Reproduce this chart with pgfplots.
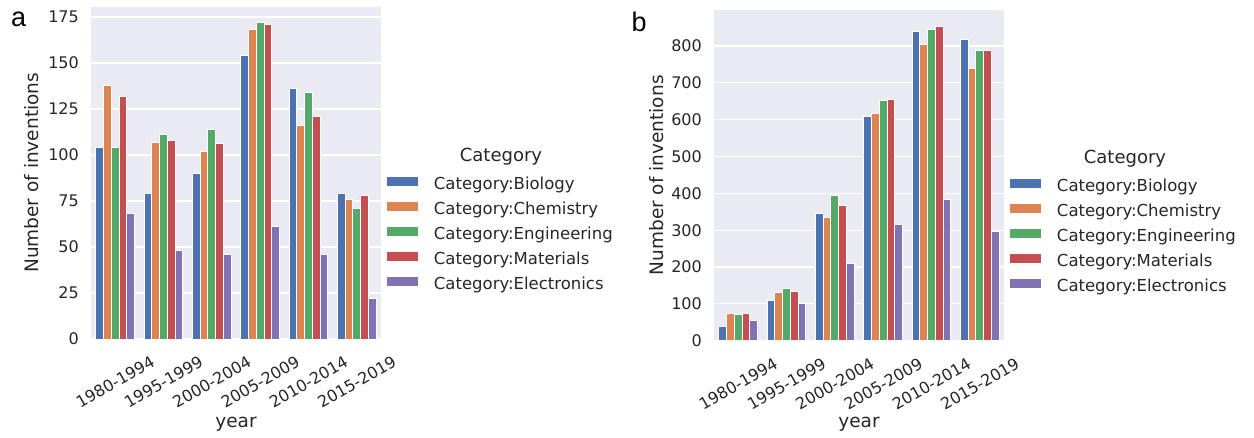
\documentclass[border=0pt]{standalone}
\usepackage{pgfplots}
\usepackage{pgfplotstable}
\pgfplotsset{compat=1.18}
\usepackage{fontspec}
\setmainfont{DejaVu Sans}
\newfontfamily\panelfont{Liberation Sans}
\definecolor{sbblue}{HTML}{4C72B0}
\definecolor{sborange}{HTML}{DD8452}
\definecolor{sbgreen}{HTML}{55A868}
\definecolor{sbred}{HTML}{C44E52}
\definecolor{sbpurple}{HTML}{8172B3}
\definecolor{sbbg}{HTML}{EAEAF2}
\definecolor{sbtext}{HTML}{262626}

\pgfplotstableread{
x bio chem eng mat elec
0 104 138 104 132 68
1 79 107 111 108 48
2 90 102 114 106 46
3 154 168 172 171 61
4 136 116 134 121 46
5 79 76 71 78 22
}\dataA

\pgfplotstableread{
x bio chem eng mat elec
0 38 75 72 75 54
1 108 131 143 133 100
2 344 335 395 366 209
3 609 617 653 656 316
4 839 804 845 854 382
5 817 738 789 789 296
}\dataB

\newcommand\labfont{\fontsize{18.5}{22}\selectfont}
\pgfplotsset{
  sbstyle/.style={
    scale only axis,
    width=290pt,
    ybar, bar width=0.16,
    xmin=-0.5, xmax=5.5, ymin=0,
    xtick={0,1,2,3,4,5},
    xticklabels={1980-1994,1995-1999,2000-2004,2005-2009,2010-2014,2015-2019},
    major tick length=0pt,
    axis line style={draw=none},
    axis background/.style={fill=sbbg},
    ymajorgrids, xmajorgrids=false,
    grid style={white, line width=1.2pt},
    /pgf/number format/assume math mode=true,
    tick label style={font=\fontsize{16}{19}\selectfont, text=sbtext},
    yticklabel style={anchor=east, inner sep=0pt, xshift=-12pt},
    xticklabel style={yshift=-43pt, rotate=30, anchor=center, inner sep=0pt},
    xlabel={year}, ylabel={Number of inventions},
    legend cell align=left,
    legend style={draw=none, fill=none, font=\fontsize{16.5}{19}\selectfont, text=sbtext,
      inner sep=0pt, outer sep=0pt,
      row sep=7pt, column sep=15pt, anchor=north west,
      nodes={inner sep=0pt, text height=12pt, text depth=4pt}},
    legend image code/.code={\fill[##1] (0pt,-0.5pt) rectangle (32pt,9.5pt);},
    every axis plot/.append style={draw=white, line width=1pt},
  }
}

\begin{document}
\begin{tikzpicture}
\path[use as bounding box] (0,0) rectangle (1254pt,-438pt);

\begin{axis}[sbstyle,
  at={(91pt,-339pt)}, anchor=south west,
  height=332.3pt, ymax=180.6,
  ytick={0,25,50,75,100,125,150,175},
  every axis x label/.style={at={(axis description cs:0.5,-0.2558)}, anchor=center, font=\labfont, text=sbtext},
  every axis y label/.style={at={(axis description cs:-0.2034,0.5)}, rotate=90, anchor=center, font=\labfont, text=sbtext},
  legend style={at={(axis description cs:1.0172,0.492)}},
]
\addplot[fill=sbblue, bar shift=-0.32] table[x=x,y=bio] {\dataA};
\addplot[fill=sborange, bar shift=-0.16] table[x=x,y=chem] {\dataA};
\addplot[fill=sbgreen, bar shift=0] table[x=x,y=eng] {\dataA};
\addplot[fill=sbred, bar shift=0.16] table[x=x,y=mat] {\dataA};
\addplot[fill=sbpurple, bar shift=0.32] table[x=x,y=elec] {\dataA};
\legend{Category:Biology,Category:Chemistry,Category:Engineering,Category:Materials,Category:Electronics}
\end{axis}

\begin{axis}[sbstyle,
  at={(714pt,-340.7pt)}, anchor=south west,
  height=330.8pt, ymax=898,
  ytick={0,100,200,300,400,500,600,700,800},
  every axis x label/.style={at={(axis description cs:0.5,-0.2518)}, anchor=center, font=\labfont, text=sbtext},
  every axis y label/.style={at={(axis description cs:-0.1966,0.5)}, rotate=90, anchor=center, font=\labfont, text=sbtext},
  legend style={at={(axis description cs:1.0172,0.4933)}},
]
\addplot[fill=sbblue, bar shift=-0.32] table[x=x,y=bio] {\dataB};
\addplot[fill=sborange, bar shift=-0.16] table[x=x,y=chem] {\dataB};
\addplot[fill=sbgreen, bar shift=0] table[x=x,y=eng] {\dataB};
\addplot[fill=sbred, bar shift=0.16] table[x=x,y=mat] {\dataB};
\addplot[fill=sbpurple, bar shift=0.32] table[x=x,y=elec] {\dataB};
\legend{Category:Biology,Category:Chemistry,Category:Engineering,Category:Materials,Category:Electronics}
\end{axis}

\node[font=\fontsize{18}{21}\selectfont, text=sbtext] at (501pt,-157pt) {Category};
\node[font=\fontsize{18}{21}\selectfont, text=sbtext] at (1125pt,-159pt) {Category};
\node[font=\panelfont\fontsize{27}{30}\selectfont, anchor=base west, inner sep=0pt] at (11pt,-27pt) {a};
\node[font=\panelfont\fontsize{27}{30}\selectfont, anchor=base west, inner sep=0pt] at (631.5pt,-32pt) {b};
\end{tikzpicture}
\end{document}
